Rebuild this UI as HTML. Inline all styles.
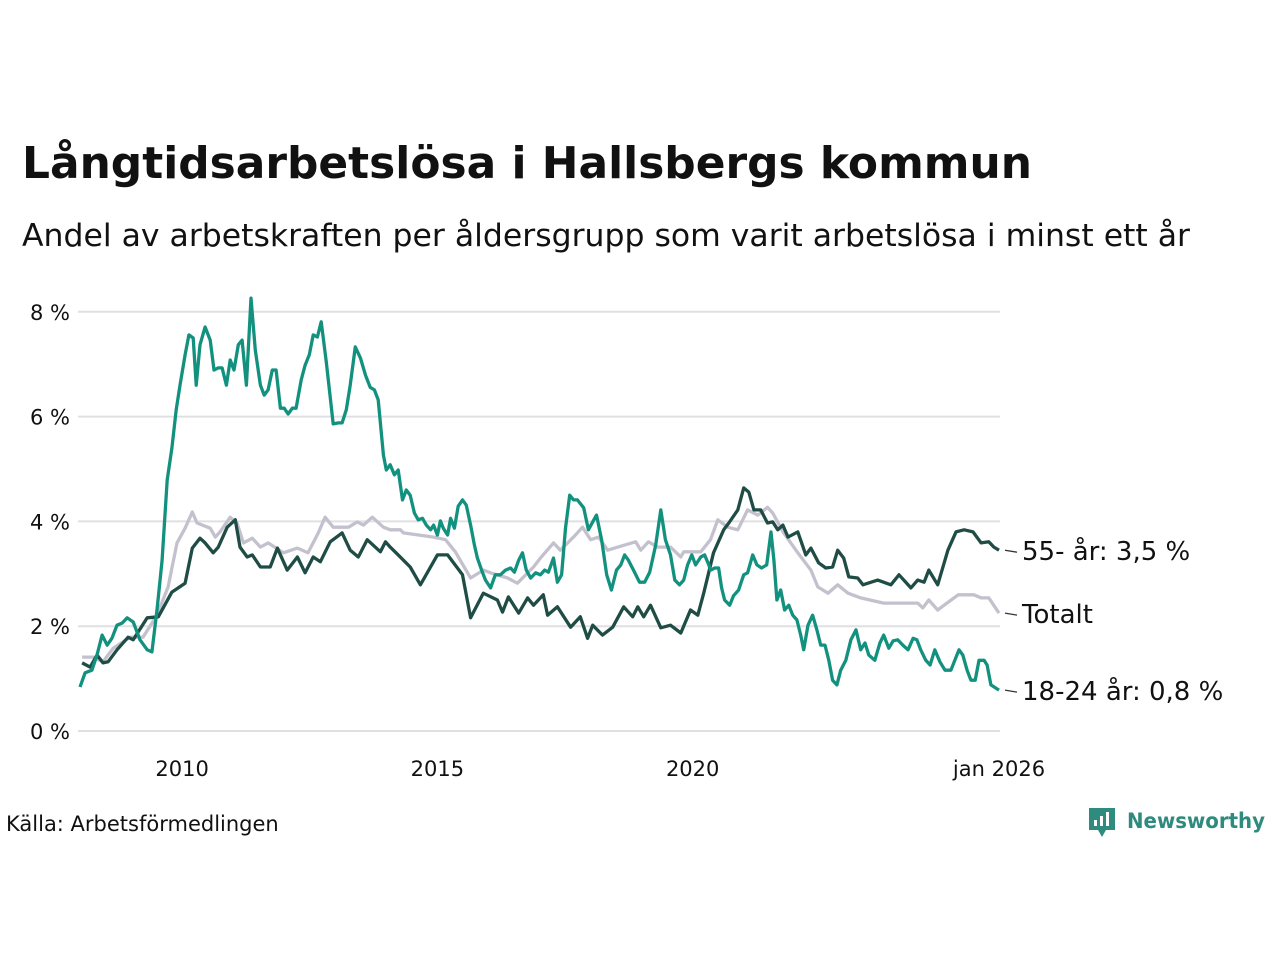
<!DOCTYPE html>
<html><head><meta charset="utf-8">
<style>
body{margin:0;background:#fff;width:1280px;height:960px;overflow:hidden;font-family:"Liberation Sans","DejaVu Sans",sans-serif;}
svg text{font-family:"DejaVu Sans","Liberation Sans",sans-serif;}
</style></head>
<body>
<svg id="chart" width="1280" height="960">
<text x="22" y="178" font-size="44" font-weight="bold" fill="#111" textLength="1010" lengthAdjust="spacingAndGlyphs">Långtidsarbetslösa i Hallsbergs kommun</text>
<text x="22" y="246" font-size="31" fill="#111" textLength="1168" lengthAdjust="spacingAndGlyphs">Andel av arbetskraften per åldersgrupp som varit arbetslösa i minst ett år</text>
<g id="grid"></g>
<g id="yticks"></g>
<g id="xticks"></g>
<g id="lines"></g>
<g id="labels"></g>
<text x="6" y="831" font-size="21" fill="#111">Källa: Arbetsförmedlingen</text>
<g>
<path d="M1089 808 h26 v22 h-9 l-4 7 l-4 -7 h-9 z" fill="#2e8b7e"/>
<rect x="1094" y="820" width="3" height="6" fill="#fff"/><rect x="1100" y="816" width="3" height="10" fill="#fff"/><rect x="1106" y="812" width="3" height="14" fill="#fff"/>
<text x="1127" y="828" font-size="21" font-weight="bold" fill="#2e8b7e" textLength="138" lengthAdjust="spacingAndGlyphs">Newsworthy</text>
</g>
</svg>
<script>
const yTicks=[0,2,4,6,8];
const yTickLabels=["0 %","2 %","4 %","6 %","8 %"];
const xTickMonths=[24,84,144,216];
const xTickLabels=["2010","2015","2020","jan 2026"];
const youngMonths=[0,1.2,2.8,4,5.2,6.4,7.5,8.7,9.9,11.1,12.5,14.1,15.8,16.9,18.1,19.3,20.5,21.6,22.6,23.5,24.7,25.6,26.6,27.3,28.2,29.4,30.6,31.5,32.5,33.4,34.4,35.3,36.2,37.2,38.1,39.1,40.2,41.2,42.4,43.3,44.2,45.2,46.1,47.1,48,48.9,49.9,50.8,52,52.9,53.9,54.8,55.8,56.7,57.9,59.5,60.7,61.6,62.6,63.5,64.7,65.9,67.1,68.2,69.2,70.1,71.3,72,72.9,73.9,74.8,75.8,76.7,77.6,78.6,79.5,80.5,81.4,82.4,83.1,84,84.7,85.4,86.4,87.1,88,88.9,89.9,90.8,91.8,92.7,93.4,94.4,95.3,96.5,97.6,98.8,100,101.2,102.1,103.1,104,104.9,105.9,107.1,108.2,109.2,110.1,111.3,112.2,113.2,114.1,115.1,116,116.9,118.4,119.5,120.5,121.4,122.6,123.8,124.9,126.1,127.1,128,128.9,130.1,131.5,132.7,133.9,135.3,136.5,137.6,138.8,139.8,140.9,141.9,142.8,143.8,144.7,145.9,146.8,147.8,148.2,149.2,150.1,150.8,151.5,152.7,153.6,154.8,156,156.9,158.1,159.1,160.2,161.4,162.4,163.1,163.8,164.7,165.6,166.6,167.5,168.5,169.4,170.1,171.1,172.2,173.2,174.1,175.1,176,176.9,177.9,178.8,180,181.2,182.4,183.5,184.5,185.4,186.8,188,188.9,190.1,191.1,192.2,193.4,194.6,195.8,196.7,197.6,198.8,199.8,200.9,202.1,203.3,204.7,205.6,206.6,207.5,208.5,209.4,210.4,211.3,212.5,213.2,214.1,216];
const youngValues=[0.84,1.11,1.16,1.45,1.83,1.64,1.77,2.02,2.06,2.16,2.08,1.74,1.55,1.51,2.31,3.26,4.79,5.40,6.13,6.60,7.18,7.56,7.50,6.60,7.37,7.71,7.46,6.89,6.93,6.93,6.60,7.08,6.89,7.37,7.46,6.60,8.26,7.27,6.60,6.41,6.51,6.89,6.89,6.16,6.16,6.05,6.16,6.16,6.70,6.98,7.18,7.56,7.52,7.81,7.04,5.86,5.88,5.88,6.13,6.60,7.33,7.12,6.79,6.56,6.51,6.32,5.27,4.98,5.08,4.89,4.98,4.41,4.60,4.50,4.16,4.03,4.06,3.93,3.84,3.93,3.74,4.01,3.87,3.74,4.06,3.87,4.29,4.41,4.31,3.93,3.55,3.30,3.07,2.88,2.73,2.98,2.98,3.07,3.11,3.03,3.26,3.40,3.07,2.92,3.02,2.98,3.07,3.03,3.30,2.84,2.98,3.87,4.50,4.41,4.41,4.26,3.84,3.99,4.12,3.65,2.98,2.69,3.07,3.17,3.36,3.26,3.07,2.84,2.84,3.03,3.55,4.22,3.65,3.36,2.88,2.79,2.88,3.17,3.36,3.17,3.32,3.36,3.17,3.07,3.11,3.11,2.73,2.50,2.40,2.58,2.69,2.98,3.02,3.36,3.17,3.11,3.17,3.80,3.26,2.50,2.69,2.31,2.40,2.21,2.12,1.83,1.55,2.02,2.21,1.93,1.64,1.64,1.35,0.97,0.88,1.16,1.35,1.74,1.93,1.55,1.68,1.45,1.35,1.68,1.83,1.58,1.72,1.74,1.64,1.55,1.77,1.74,1.55,1.35,1.26,1.55,1.32,1.16,1.16,1.35,1.55,1.45,1.16,0.97,0.97,1.35,1.35,1.26,0.88,0.78];
const olderMonths=[0.5,2.4,4,5.4,6.6,8.7,11.3,12.5,15.8,18.4,21.6,24.7,26.4,28.2,29.4,31.3,32.5,34.6,36.5,37.6,39.3,40.5,42.4,44.7,46.4,48.7,51.1,52.9,54.8,56.5,58.8,61.6,63.5,65.4,67.5,70.6,71.8,72.9,74.8,77.6,80,84,86.4,89.9,91.8,94.8,98.1,99.3,100.7,103.1,105.2,106.6,108.9,109.9,112.2,115.3,117.6,119.3,120.5,122.8,125.2,127.8,129.9,131.1,132.5,134.1,136.5,138.8,141.2,143.5,145.2,146.6,148.9,151.3,152.5,154.6,156,157.2,158.4,160,161.6,162.8,164,165.2,166.4,168.7,170.6,171.8,173.6,175.3,176.9,178.1,179.5,180.7,182.8,184,185.2,187.5,190.6,192.5,195.3,196.9,198.4,199.5,201.6,204,205.9,207.8,209.9,211.8,213.6,214.8,216];
const olderValues=[1.30,1.22,1.45,1.30,1.32,1.55,1.79,1.74,2.16,2.18,2.65,2.82,3.49,3.68,3.59,3.40,3.51,3.89,4.03,3.51,3.32,3.36,3.13,3.13,3.49,3.07,3.32,3.02,3.32,3.23,3.61,3.78,3.45,3.32,3.65,3.42,3.61,3.51,3.36,3.13,2.79,3.36,3.36,2.98,2.16,2.63,2.50,2.27,2.56,2.25,2.54,2.40,2.60,2.21,2.37,1.98,2.18,1.77,2.02,1.83,1.98,2.37,2.18,2.37,2.18,2.40,1.97,2.02,1.87,2.31,2.21,2.63,3.40,3.84,3.97,4.22,4.64,4.56,4.22,4.22,3.97,3.99,3.84,3.93,3.70,3.80,3.36,3.49,3.21,3.11,3.13,3.45,3.30,2.94,2.92,2.79,2.82,2.88,2.79,2.98,2.73,2.88,2.84,3.07,2.79,3.45,3.80,3.84,3.80,3.59,3.61,3.51,3.45];
const totalMonths=[0.5,3.1,5.4,7.8,11.8,14.8,18.1,20.7,22.8,24.7,26.4,27.5,30.6,31.8,32.9,35.3,36.9,38.4,40.5,42.4,44.2,47.8,51.1,53.6,56,57.6,59.5,63.1,65.2,66.6,68.7,71.3,72.9,75.3,76,83.1,85.9,88.2,91.8,94.8,96.5,100.5,102.8,106.6,108.2,111.3,112.9,116,118.1,120,121.9,124,126.4,130.6,131.8,133.6,135.8,138.8,141.2,141.9,145.9,148.2,149.9,152.2,154.6,156.9,159.3,161.6,162.8,165.4,168.7,171.8,173.4,175.8,178.1,180.5,183.5,188.9,196.9,198.1,199.5,201.6,203.1,206.4,210.1,211.8,213.6,216];
const totalValues=[1.41,1.41,1.32,1.58,1.79,1.79,2.21,2.75,3.59,3.87,4.18,3.97,3.87,3.70,3.80,4.08,3.97,3.59,3.68,3.51,3.59,3.40,3.49,3.40,3.78,4.08,3.89,3.89,3.99,3.93,4.08,3.89,3.84,3.84,3.78,3.70,3.65,3.42,2.92,3.07,3.02,2.92,2.82,3.13,3.30,3.59,3.45,3.70,3.89,3.65,3.70,3.45,3.51,3.61,3.45,3.61,3.51,3.51,3.32,3.42,3.42,3.65,4.03,3.89,3.84,4.22,4.12,4.27,4.16,3.78,3.40,3.07,2.75,2.63,2.79,2.63,2.54,2.44,2.44,2.35,2.50,2.31,2.40,2.60,2.60,2.54,2.54,2.25];
const seriesNames=["Totalt","55- år","18-24 år"];
const NS="http://www.w3.org/2000/svg";
const X0=80,X1=999,M1=216,Y0=731,PPU=52.4;
function xs(m){return X0+m*(X1-X0)/M1;}
function ys(v){return Y0-v*PPU;}
const grid=document.getElementById('grid'),yt=document.getElementById('yticks'),xt=document.getElementById('xticks');
yTicks.forEach((t,i)=>{
 const l=document.createElementNS(NS,'line');
 l.setAttribute('x1',78);l.setAttribute('x2',1000);l.setAttribute('y1',ys(t));l.setAttribute('y2',ys(t));
 l.setAttribute('stroke','#e0e0e4');l.setAttribute('stroke-width',2);
 
 
 grid.appendChild(l);
 const tx=document.createElementNS(NS,'text');
 tx.setAttribute('x',70);tx.setAttribute('y',ys(t)+8);tx.setAttribute('text-anchor','end');
 tx.setAttribute('font-size',21);tx.setAttribute('fill','#111');tx.textContent=yTickLabels[i];
 
 
 yt.appendChild(tx);
});
xTickMonths.forEach((m,i)=>{
 const tx=document.createElementNS(NS,'text');
 tx.setAttribute('x',xs(m));tx.setAttribute('y',776);tx.setAttribute('text-anchor','middle');
 tx.setAttribute('font-size',21);tx.setAttribute('fill','#111');tx.textContent=xTickLabels[i];
 
 
 xt.appendChild(tx);
});
const lines=document.getElementById('lines'),labels=document.getElementById('labels');
function draw(ms,vs,color,name,lab){
 const n=Math.min(ms.length,vs.length);let d='';
 for(let i=0;i<n;i++)d+=(i?'L':'M')+xs(ms[i]).toFixed(1)+' '+ys(vs[i]).toFixed(1);
 const p=document.createElementNS(NS,'path');
 p.setAttribute('d',d);p.setAttribute('fill','none');p.setAttribute('stroke',color);
 p.setAttribute('stroke-width',3.3);p.setAttribute('stroke-linejoin','round');
 
 
 lines.appendChild(p);
 const last=vs[n-1],yy=ys(last);
 const ld=document.createElementNS(NS,'line');
 ld.setAttribute('x1',1005);ld.setAttribute('x2',1017);ld.setAttribute('y1',yy);ld.setAttribute('y2',yy+2);
 ld.setAttribute('stroke','#333');ld.setAttribute('stroke-width',1.3);
 
 
 labels.appendChild(ld);
 const t=document.createElementNS(NS,'text');
 t.setAttribute('x',1022);t.setAttribute('y',yy+10);t.setAttribute('font-size',26);t.setAttribute('fill','#111');
 t.textContent=lab;
 
 
 labels.appendChild(t);
}
function fmt(v){return v.toFixed(1).replace('.',',');}
draw(totalMonths,totalValues,'#c3c1cd','line-totalt',seriesNames[0]);
draw(olderMonths,olderValues,'#1f4d45','line-55-ar',seriesNames[1]+': '+fmt(olderValues[olderValues.length-1])+' %');
draw(youngMonths,youngValues,'#13917f','line-18-24-ar',seriesNames[2]+': '+fmt(youngValues[youngValues.length-1])+' %');
</script>
</body></html>
